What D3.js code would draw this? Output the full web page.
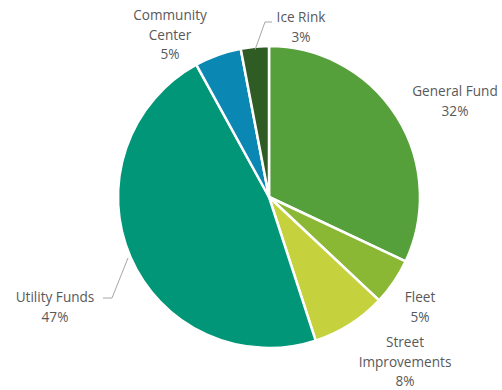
<!DOCTYPE html>
<html>
<head>
<meta charset="utf-8">
<script src="https://cdn.jsdelivr.net/npm/d3@7"></script>
<style>
  html, body { margin: 0; padding: 0; background: #fff; }
  svg text { font-family: "Open Sans", "Noto Sans", sans-serif; font-size: 13.6px; fill: #595959; }
</style>
</head>
<body>
<svg id="chart" width="502" height="390"></svg>
<script>
// Budget shares by fund, clockwise from 12 o'clock
const categories = ["General Fund", "Fleet", "Street Improvements", "Utility Funds", "Community Center", "Ice Rink"];
const shares = [32, 5, 8, 47, 5, 3];
const colors = ["#56a03b", "#8bb834", "#c5d13d", "#009677", "#0a87b3", "#2f5b25"];
// Label text lines and anchor points for each slice
const labelLines = [["General Fund", "32%"], ["Fleet", "5%"], ["Street", "Improvements", "8%"], ["Utility Funds", "47%"], ["Community", "Center", "5%"], ["Ice Rink", "3%"]];
const labelPos = [[455, 96], [420, 302], [405, 347], [55, 302], [170, 20], [301, 22]];

const svg = d3.select("#chart");
const cx = 269, cy = 197, r = 151;

const pie = d3.pie().sort(null).value(d => d);
const arcs = pie(shares);
const arc = d3.arc().innerRadius(0).outerRadius(r);

const g = svg.append("g").attr("transform", `translate(${cx},${cy})`);
g.selectAll("path")
  .data(arcs)
  .join("path")
  .attr("d", arc)
  .attr("fill", (d, i) => colors[i])
  .attr("stroke", "#fff")
  .attr("stroke-width", 2.5)
  .attr("stroke-linejoin", "round");

// Leader lines for the labels that sit away from their slices
const leader = d3.line();
const edge = d3.arc().innerRadius(r - 3).outerRadius(r - 3);
function edgePoint(i) {
  const [x, y] = edge.centroid(arcs[i]);
  return [x + cx, y + cy];
}
const ice = edgePoint(5);
svg.append("path")
  .attr("d", leader([ice, [265, 22], [272, 22]]))
  .attr("fill", "none").attr("stroke", "#a6a6a6").attr("stroke-width", 1);
const ut = [128, 258];
svg.append("path")
  .attr("d", leader([ut, [112, 298], [103, 298]]))
  .attr("fill", "none").attr("stroke", "#a6a6a6").attr("stroke-width", 1);

// Category labels with percentage
labelLines.forEach((lines, i) => {
  const [x, y] = labelPos[i];
  const t = svg.append("text").attr("text-anchor", "middle");
  lines.forEach((s, j) => {
    t.append("tspan").attr("x", x).attr("y", y + j * 19.5).text(s);
  });
});
</script>
</body>
</html>
